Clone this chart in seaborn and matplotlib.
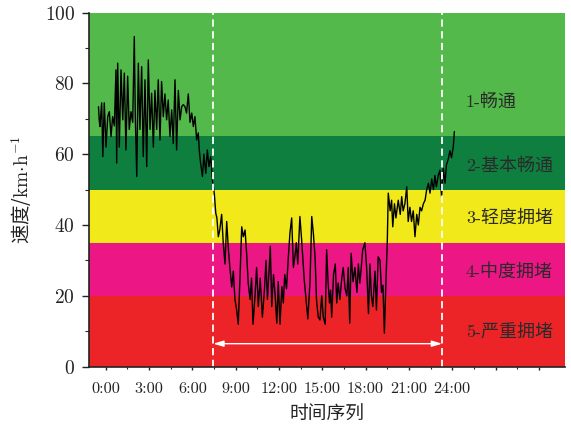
import numpy as np
import pandas as pd
import matplotlib
matplotlib.use("Agg")
import matplotlib.pyplot as plt
import seaborn as sns

# ---- data (hours, km/h) ----
hours = [-0.50, -0.45, -0.40, -0.28, -0.20, -0.10, 0.02, 0.14, 0.25, 0.37, 0.48, 0.60,
         0.71, 0.76, 0.83, 0.94, 1.06, 1.18, 1.29, 1.40, 1.52, 1.63, 1.75, 1.87, 1.98,
         2.05, 2.15, 2.26, 2.37, 2.49, 2.60, 2.72, 2.84, 2.95, 3.07, 3.18, 3.30, 3.41,
         3.53, 3.64, 3.76, 3.87, 3.99, 4.10, 4.22, 4.33, 4.45, 4.57, 4.68, 4.80, 4.91,
         5.03, 5.15, 5.26, 5.37, 5.49, 5.60, 5.72, 5.84, 5.96, 6.07, 6.18, 6.30, 6.41,
         6.48, 6.57, 6.70, 6.80, 6.93, 7.04, 7.15, 7.27, 7.34, 7.41, 7.52, 7.62, 7.70,
         7.80, 7.90, 8.03, 8.14, 8.26, 8.38, 8.50, 8.60, 8.73, 8.84, 8.95, 9.07, 9.18,
         9.30, 9.42, 9.53, 9.65, 9.76, 9.87, 10.00, 10.10, 10.20, 10.34, 10.45, 10.57,
         10.70, 10.85, 11.00, 11.10, 11.20, 11.30, 11.40, 11.50, 11.62, 11.72, 11.85,
         11.95, 12.07, 12.20, 12.30, 12.40, 12.52, 12.65, 12.76, 12.88, 13.00, 13.10,
         13.20, 13.30, 13.45, 13.57, 13.66, 13.75, 13.90, 14.00, 14.15, 14.27, 14.38,
         14.50, 14.60, 14.72, 14.84, 14.96, 15.07, 15.20, 15.30, 15.40, 15.50, 15.58,
         15.65, 15.78, 15.90, 16.00, 16.10, 16.22, 16.35, 16.45, 16.58, 16.70, 16.80,
         16.90, 17.00, 17.13, 17.26, 17.40, 17.50, 17.60, 17.70, 17.80, 17.95, 18.07,
         18.20, 18.30, 18.40, 18.50, 18.65, 18.75, 18.87, 19.00, 19.10, 19.20, 19.30,
         19.40, 19.50, 19.57, 19.70, 19.80, 19.88, 20.00, 20.10, 20.26, 20.40, 20.50,
         20.60, 20.72, 20.85, 20.95, 21.07, 21.18, 21.30, 21.42, 21.54, 21.65, 21.77,
         21.88, 22.00, 22.12, 22.23, 22.35, 22.46, 22.58, 22.70, 22.80, 22.90, 23.03,
         23.15, 23.26, 23.38, 23.50, 23.60, 23.72, 23.84, 23.95, 24.07, 24.15]
speed = [73.4, 69.7, 67.8, 74.5, 59.3, 74.5, 62.0, 70.6, 72.0, 65.0, 70.6, 68.0,
         83.8, 57.5, 85.7, 62.0, 83.8, 69.7, 82.9, 61.2, 82.0, 67.0, 72.0, 69.0, 93.2,
         70.6, 53.7, 85.7, 67.0, 84.7, 59.3, 81.0, 56.5, 86.6, 67.0, 77.2, 62.0, 78.0,
         67.0, 81.0, 64.0, 80.5, 70.6, 77.0, 69.7, 75.3, 65.0, 72.5, 63.0, 81.0, 61.2,
         78.0, 69.7, 73.4, 74.0, 73.4, 71.6, 77.0, 69.0, 71.6, 67.8, 70.6, 64.0, 66.0,
         61.2, 57.5, 53.7, 60.0, 54.6, 61.2, 56.5, 59.3, 55.6, 51.8, 49.0, 43.4, 42.0,
         36.7, 38.6, 43.0, 35.0, 29.0, 41.0, 33.0, 28.0, 22.5, 27.0, 19.0, 16.0, 12.0,
         25.0, 39.5, 36.7, 38.6, 32.0, 23.6, 19.0, 25.0, 12.0, 20.0, 28.0, 17.0,
         25.0, 14.0, 22.0, 30.0, 19.0, 26.0, 34.0, 17.0, 26.0, 21.0, 12.3,
         24.0, 12.0, 22.6, 18.0, 26.0, 22.0, 31.0, 37.7, 42.0, 28.0, 31.0,
         35.0, 29.0, 42.4, 35.8, 30.0, 24.5, 18.0, 13.5, 24.0, 42.4, 37.7,
         31.0, 18.8, 14.0, 13.2, 20.0, 14.0, 12.0, 33.0, 24.0, 18.0, 21.6,
         14.0, 26.0, 29.0, 18.0, 23.6, 19.0, 25.0, 28.0, 22.0, 20.0, 28.0,
         12.3, 32.0, 24.0, 28.0, 21.0, 29.0, 23.6, 28.0, 33.0, 35.0, 28.0,
         15.0, 29.0, 20.0, 17.0, 27.0, 16.0, 31.0, 30.0, 21.0, 23.0, 9.5,
         23.0, 35.0, 49.0, 44.0, 47.0, 39.5, 46.0, 42.0, 47.0, 43.0, 48.0,
         44.0, 46.0, 50.8, 41.0, 45.0, 41.0, 44.0, 36.7, 43.0, 40.0, 45.0,
         44.0, 46.0, 47.0, 50.0, 51.8, 49.0, 53.0, 50.0, 54.0, 50.8, 54.0,
         55.5, 48.0, 56.0, 51.8, 57.0, 58.5, 61.0, 59.0, 62.0, 66.4]

band_lows = [65, 50, 35, 20, 0]
band_highs = [100, 65, 50, 35, 20]
band_labels = ["1-畅通", "2-基本畅通", "3-轻度拥堵", "4-中度拥堵", "5-严重拥堵"]
band_label_y = [75, 57, 42, 27, 10]
band_colors = ["#53b94b", "#0f7f40", "#f1e91a", "#ec1685", "#ec2427"]

xtick_pos = [0, 3, 6, 9, 12, 15, 18, 21, 24, 27, 30]
xtick_labels = ["0:00", "3:00", "6:00", "9:00", "12:00", "15:00", "18:00", "21:00", "24:00", "", ""]
peak_start, peak_end = 7.45, 23.3

sns.set_style("ticks")
plt.rcParams["font.family"] = ["cmr10", "Noto Sans CJK SC", "DejaVu Sans"]
plt.rcParams["mathtext.fontset"] = "cm"
plt.rcParams["axes.formatter.use_mathtext"] = True
plt.rcParams["axes.unicode_minus"] = False

fig = plt.figure(figsize=(5.71, 4.28), dpi=100)
ax = fig.add_axes([89 / 571, 1 - 366.7 / 428, (565 - 89) / 571, (366.7 - 12.5) / 428])

for lo, hi, c in zip(band_lows, band_highs, band_colors):
    ax.axhspan(lo, hi, color=c, lw=0, zorder=0)

df = pd.DataFrame({"t": hours, "v": speed})
sns.lineplot(data=df, x="t", y="v", color="black", lw=1.0, ax=ax, zorder=3)

for xv in (peak_start, peak_end):
    ax.axvline(xv, color="white", lw=1.3, ls=(0, (4, 2.5)), zorder=4)

ax.annotate("", xy=(peak_start, 6.5), xytext=(peak_end, 6.5),
            arrowprops=dict(arrowstyle="<|-|>,head_length=0.6,head_width=0.18",
                            color="white", lw=1.0, shrinkA=0, shrinkB=0), zorder=5)

for lab, yv in zip(band_labels, band_label_y):
    ax.text(24.95, yv, lab, ha="left", va="center", fontsize=13, color="#2a2a2a",
            family=["cmr10", "Noto Sans CJK SC"], zorder=5)

ax.set_xlim(-1.157, 31.81)
ax.set_ylim(0, 100)
ax.set_xticks(xtick_pos)
ax.set_xticklabels(xtick_labels)
ax.set_xticks(np.arange(1.5, 31.5, 3), minor=True)
ax.set_yticks([0, 20, 40, 60, 80, 100])
ax.set_yticks([10, 30, 50, 70, 90], minor=True)

ax.tick_params(axis="y", which="major", direction="out", length=5, width=1.0,
               labelsize=14, pad=5, colors="#222222")
ax.tick_params(axis="y", which="minor", direction="out", length=3, width=0.8)
ax.tick_params(axis="x", which="major", direction="out", length=2.5, width=1.0,
               labelsize=11.7, pad=9, colors="#222222")
ax.tick_params(axis="x", which="minor", direction="out", length=1.5, width=0.8)

for s in ("top", "right"):
    ax.spines[s].set_visible(False)
for s in ("left", "bottom"):
    ax.spines[s].set_color("#222222")
    ax.spines[s].set_linewidth(1.2)
    ax.spines[s].set_zorder(6)

ax.set_xlabel("时间序列", fontsize=13.5, color="#222222", labelpad=5,
              family=["Noto Sans CJK SC", "DejaVu Sans"])
ax.set_ylabel(r"速度/$\mathrm{km{\cdot}h^{-1}}$", fontsize=14, color="#222222", labelpad=8,
              family=["Noto Sans CJK SC", "DejaVu Sans"])

fig.savefig("out.png", dpi=100)
